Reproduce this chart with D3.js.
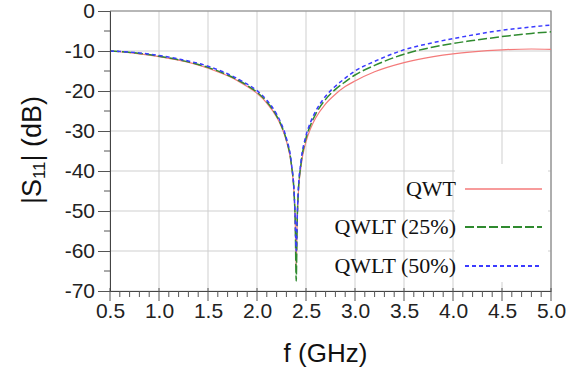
<!DOCTYPE html>
<html>
<head>
<meta charset="utf-8">
<script src="https://cdn.jsdelivr.net/npm/d3@7"></script>
<style>
  body { margin: 0; background: #fff; }
  svg { display: block; }
</style>
</head>
<body>
<div id="chart"></div>
<script>
const freq = [0.5, 0.8, 1.0, 1.2, 1.5, 1.7, 1.8, 1.9, 2.0, 2.1, 2.2, 2.25, 2.3, 2.35, 2.38, 2.39, 2.4,
  2.41, 2.42, 2.45, 2.5, 2.55, 2.6, 2.7, 2.8, 2.9, 3.0, 3.2, 3.5, 3.8, 4.0, 4.2, 4.5, 4.8, 5.0]

const qwt = [-10.0, -10.7, -11.4, -12.3, -14.3, -16.2, -17.4, -18.9, -20.6, -23.0, -26.5, -29.0, -32.5, -38.5, -46.5, -52.5, -64,
  -52.5, -46.5, -38.7, -32.7, -29.2, -26.7, -23.2, -20.8, -18.9, -17.5, -15.2, -12.9, -11.4, -10.7, -10.2, -9.7, -9.5, -9.6]

const qwlt25 = [-10.0, -10.6, -11.3, -12.2, -14.1, -16.0, -17.2, -18.6, -20.3, -22.7, -26.2, -28.7, -32.2, -38.2, -46.2, -52.5, -67.5,
  -52.5, -46.0, -38.0, -31.8, -28.3, -25.7, -22.1, -19.6, -17.7, -16.0, -13.6, -10.8, -9.0, -8.1, -7.4, -6.4, -5.6, -5.2]

const qwlt50 = [-10.0, -10.5, -11.1, -12.0, -13.8, -15.7, -16.9, -18.3, -19.9, -22.3, -25.8, -28.3, -31.8, -37.8, -46.0, -52.0, -60,
  -52.0, -45.5, -37.4, -31.2, -27.6, -25.0, -21.3, -18.8, -16.8, -15.0, -12.6, -9.7, -7.9, -6.9, -6.0, -4.8, -4.0, -3.5]

const seriesNames = ['QWT', 'QWLT (25%)', 'QWLT (50%)']
const xTicks = [0.5, 1.0, 1.5, 2.0, 2.5, 3.0, 3.5, 4.0, 4.5, 5.0]
const yTicks = [0, -10, -20, -30, -40, -50, -60, -70]

const width = 585
const height = 373
const margin = { top: 11, right: 34, bottom: 82, left: 110 }

const svg = d3.select('#chart').append('svg')
  .attr('width', width)
  .attr('height', height)

const x = d3.scaleLinear().domain([0.5, 5.0]).range([margin.left, width - margin.right])
const y = d3.scaleLinear().domain([-70, 0]).range([height - margin.bottom, margin.top])

const x0 = x.range()[0]
const x1 = x.range()[1]
const y0 = y.range()[0]
const y1 = y.range()[1]

const sans = 'Liberation Sans, Arial, sans-serif'

// grid
const grid = svg.append('g')
grid.selectAll('.vg').data(xTicks).join('line')
  .attr('x1', d => x(d)).attr('x2', d => x(d))
  .attr('y1', y1).attr('y2', y0)
  .attr('stroke', '#cfcfcf').attr('stroke-width', 1)
grid.selectAll('.hg').data(yTicks).join('line')
  .attr('x1', x0).attr('x2', x1)
  .attr('y1', d => y(d)).attr('y2', d => y(d))
  .attr('stroke', '#cfcfcf').attr('stroke-width', 1)

// frame top/right
svg.append('path')
  .attr('d', `M${x0},${y1}H${x1}V${y0}`)
  .attr('fill', 'none').attr('stroke', '#888').attr('stroke-width', 1.2)

// legend background
svg.append('rect')
  .attr('x', 455).attr('y', 164)
  .attr('width', 93).attr('height', 118)
  .attr('fill', '#fff')

// series
const colors = ['#f47a7a', '#2f8a2f', '#3b3bff']
const dashes = [null, '9,3', '4,3']
const widths = [1.2, 1.5, 1.5]
const allSeries = [qwt, qwlt25, qwlt50]

const line = d3.line()
  .x((d, i) => x(freq[i]))
  .y(d => y(d))
  .curve(d3.curveMonotoneX)

allSeries.forEach((vals, k) => {
  svg.append('path')
    .datum(vals)
    .attr('d', line)
    .attr('fill', 'none')
    .attr('stroke', colors[k])
    .attr('stroke-width', widths[k])
    .attr('stroke-dasharray', dashes[k])
})

// axes
const xAxis = d3.axisBottom(x).tickValues(xTicks).tickFormat(d3.format('.1f')).tickSize(0).tickPadding(12)
const gx = svg.append('g').attr('transform', `translate(0,${y0})`).call(xAxis)
gx.select('.domain').attr('stroke', '#444')
gx.selectAll('text').attr('font-family', sans).attr('font-size', 21).attr('fill', '#222')

const minorX = d3.range(5, 51).map(d => d / 10)
svg.append('g').selectAll('line').data(minorX).join('line')
  .attr('x1', d => x(d)).attr('x2', d => x(d))
  .attr('y1', d => xTicks.some(t => Math.abs(t - d) < 1e-6) ? y0 - 3 : y0)
  .attr('y2', d => xTicks.some(t => Math.abs(t - d) < 1e-6) ? y0 + 10 : y0 + 6)
  .attr('stroke', '#555').attr('stroke-width', 1)

const yAxis = d3.axisLeft(y).tickValues(yTicks).tickFormat(d => String(d)).tickSize(12).tickPadding(3)
const gy = svg.append('g').attr('transform', `translate(${x0},0)`).call(yAxis)
gy.select('.domain').attr('stroke', '#444')
gy.selectAll('.tick line').attr('stroke', '#555')
gy.selectAll('text').attr('font-family', sans).attr('font-size', 21).attr('fill', '#222')

const minorY = d3.range(-65, 0, 10)
svg.append('g').selectAll('line').data(minorY).join('line')
  .attr('x1', x0 - 6).attr('x2', x0)
  .attr('y1', d => y(d)).attr('y2', d => y(d))
  .attr('stroke', '#555').attr('stroke-width', 1)

// axis titles
svg.append('text')
  .attr('x', (x0 + x1) / 2 - 5).attr('y', 362)
  .attr('text-anchor', 'middle')
  .attr('font-family', sans).attr('font-size', 26)
  .attr('fill', '#111')
  .text('f (GHz)')

const yt = svg.append('text')
  .attr('transform', 'translate(41,150) rotate(-90)')
  .attr('text-anchor', 'middle')
  .attr('font-family', sans).attr('font-size', 27)
  .attr('fill', '#111')
yt.append('tspan').text('|S')
yt.append('tspan').attr('font-size', 17).attr('dy', 4).text('11')
yt.append('tspan').attr('dy', -4).text('| (dB)')

// legend
const legY = [189, 227, 266]
const leg = svg.append('g')
seriesNames.forEach((name, k) => {
  leg.append('text')
    .attr('x', 456).attr('y', legY[k] + 7)
    .attr('text-anchor', 'end')
    .attr('font-family', 'Liberation Serif, Times New Roman, serif').attr('font-size', 22)
    .attr('fill', '#111')
    .text(name)
  leg.append('line')
    .attr('x1', 465).attr('x2', 542)
    .attr('y1', legY[k]).attr('y2', legY[k])
    .attr('stroke', colors[k])
    .attr('stroke-width', k === 0 ? 1.5 : 1.8)
    .attr('stroke-dasharray', dashes[k])
})
</script>
</body>
</html>
